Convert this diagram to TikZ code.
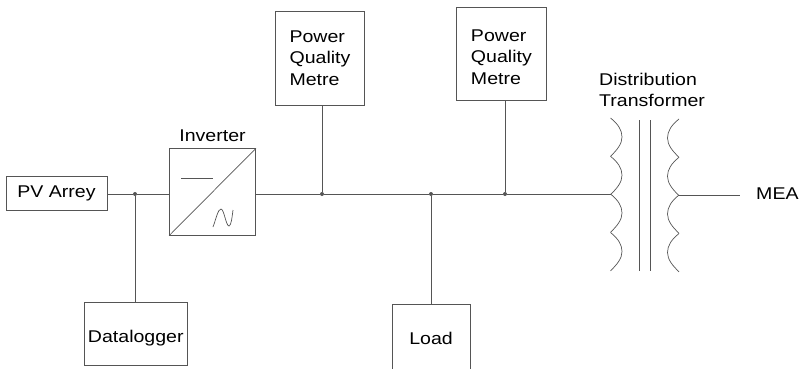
\documentclass[tikz,border=0pt]{standalone}
\usepackage{xcolor}
\usepackage{fontspec}
\setmainfont[FakeStretch=1.15]{Liberation Sans}
\usetikzlibrary{positioning,calc}
\definecolor{wirecolor}{HTML}{555555}
\tikzstyle{block} = [rectangle, draw=wirecolor, line width=0.9pt, inner sep=0pt, font=\fontsize{17}{21.5}\selectfont]
\tikzstyle{label} = [inner sep=0pt, align=left, font=\fontsize{17}{21}\selectfont]
\tikzstyle{wire} = [draw=wirecolor, line width=0.9pt]
\tikzstyle{coil} = [draw=wirecolor, line width=0.7pt]
\tikzstyle{junction} = [circle, fill=wirecolor, draw=none, minimum size=4pt, inner sep=0pt]

\begin{document}
\begin{tikzpicture}[x=1pt, y=-1pt]
\useasboundingbox (0,0) rectangle (799,368);
% boxes
\node[block, minimum width=101pt, minimum height=34pt] (pvarray) at (56.5,193) {PV Arrey};
\node[block, minimum width=86pt, minimum height=86.5pt] (inverter) at (212.5,192) {};
\node[block, minimum width=103pt, minimum height=63pt, text height=21pt] (datalogger) at (135.8,333.5) {Datalogger};
\node[block, minimum width=78pt, minimum height=68pt] (load) at (431,338) {Load};
\node[block, minimum width=88.6pt, minimum height=94pt, align=left] (meter1) at (320,58) {Power\\Quality\\Metre};
\node[block, minimum width=89.3pt, minimum height=93.7pt, align=left] (meter2) at (501.4,54) {\rule{0pt}{18pt}Power\\Quality\\Metre};
\node[label, above=6pt of inverter] (invlabel) {Inverter};
\node[label, anchor=west] (trlabel) at (599,90) {Distribution\\Transformer};
\node[label, anchor=west] (mea) at (756,194) {MEA};

% inverter symbol
\draw[coil] (inverter.south west) -- (inverter.north east);
\draw[coil] (181,178) -- (213,178);
\draw[coil] (213,227) .. controls (216,219) and (218,209) .. (221,209) .. controls (224,209) and (226,226) .. (229,226) .. controls (231,226) and (232,218) .. (233,210);

% junctions on the bus
\node[junction] (j1) at (135,194) {};
\node[junction] (j2) at (322,194) {};
\node[junction] (j3) at (431,194) {};
\node[junction] (j4) at (505,194) {};
\coordinate (prim) at (611,194);
\coordinate (sec) at (679,195);
\coordinate (line) at (740,195);

\draw[wire] (pvarray.east |- j1) -- (j1);
\draw[wire] (j1) -- (inverter.west |- j1);
\draw[wire] (inverter.east |- j2) -- (j2);
\draw[wire] (j2) -- (j3);
\draw[wire] (j3) -- (j4);
\draw[wire] (j4) -- (prim);
\draw[wire] (sec) -- (line);
\draw[wire] (j1) -- (j1 |- datalogger.north);
\draw[wire] (j2) -- (j2 |- meter1.south);
\draw[wire] (j3) -- (j3 |- load.north);
\draw[wire] (j4) -- (j4 |- meter2.south);

% transformer
\foreach \y in {118,156.3,194,232.5} {
  \draw[coil] (610.5,\y) .. controls (618,\y+6) and (622,\y+12) .. (622,\y+19)
    .. controls (622,\y+26) and (617,\y+32) .. (610.5,\y+38.3);
  \draw[coil] (679,\y+1) .. controls (671.5,\y+7) and (667.5,\y+13) .. (667.5,\y+20)
    .. controls (667.5,\y+27) and (672.5,\y+33) .. (679,\y+39.3);
}
\draw[wire] (639,120) -- (639,271);
\draw[wire] (650.7,120) -- (650.7,271);
\end{tikzpicture}
\end{document}
